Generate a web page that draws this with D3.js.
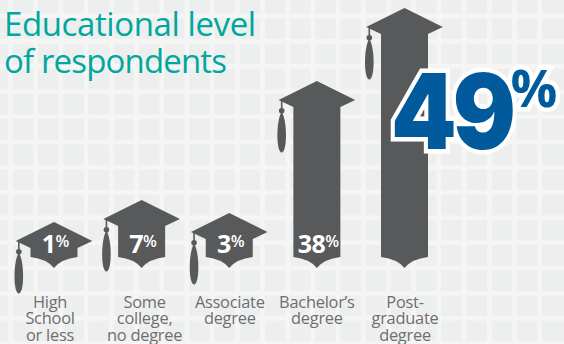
<!DOCTYPE html>
<html>
<head>
<meta charset="utf-8">
<script src="https://cdn.jsdelivr.net/npm/d3@7"></script>
<style>
  html, body { margin: 0; padding: 0; background: #f5f5f5; }
  svg { display: block; }
  text { font-family: "Open Sans", sans-serif; }
</style>
</head>
<body>
<script>
const categories = ["High School or less", "Some college, no degree", "Associate degree", "Bachelor’s degree", "Post-graduate degree"];
const categoryLines = [["High", "School", "or less"], ["Some", "college,", "no degree"], ["Associate", "degree"], ["Bachelor’s", "degree"], ["Post-", "graduate", "degree"]];
const values = [1, 7, 3, 38, 49];
const titleLines = ["Educational level", "of respondents"];

const width = 564, height = 344;
const capColor = "#58595b", labelColor = "#6d6e71", titleColor = "#00a79d", accent = "#005a9c";

const svg = d3.select("body").append("svg").attr("width", width).attr("height", height);

// Tiled backdrop: pale squares separated by lighter bands
svg.append("rect").attr("width", width).attr("height", height).attr("fill", "#edefee");
const pitch = 25.2, band = 4.6;
const grid = svg.append("g").attr("fill", "#f5f5f5");
grid.selectAll("rect.v").data(d3.range(10.5, width, pitch)).join("rect")
  .attr("class", "v").attr("x", d => d - band / 2).attr("y", 0).attr("width", band).attr("height", height);
grid.selectAll("rect.h").data(d3.range(16, height + pitch, pitch)).join("rect")
  .attr("class", "h").attr("x", 0).attr("y", d => d - band / 2).attr("width", width).attr("height", band);

// Pictogram scales: caps sit on evenly spaced centres, heights are not proportional below 38%
const x = d3.scalePoint().domain(categories).range([54, 404.5]);
const baseY = 268;
const y = d3.scaleLinear().domain([1, 3, 7, 38, 49]).range([222, 213, 200, 81, 8]);

const brimHalf = 38.3, brimDrop = 19, bodyHalf = 23.5, shoulder = 26;

function capPath(value) {
  const top = y(value);
  const p = d3.path();
  p.moveTo(0, top);
  p.lineTo(brimHalf, top + brimDrop);
  p.lineTo(bodyHalf, top + shoulder);
  p.lineTo(bodyHalf, baseY - 11);
  p.quadraticCurveTo(7, baseY - 9, 0, baseY);
  p.quadraticCurveTo(-7, baseY - 9, -bodyHalf, baseY - 11);
  p.lineTo(-bodyHalf, top + shoulder);
  p.lineTo(-brimHalf, top + brimDrop);
  p.closePath();
  return p.toString();
}

function tasselPath(value) {
  const top = y(value), tx = -35.2;
  const p = d3.path();
  p.moveTo(tx, top + 31);
  p.bezierCurveTo(tx + 2.5, top + 34, tx + 4.3, top + 44, tx + 4.3, top + 54);
  p.bezierCurveTo(tx + 4.3, top + 65, tx + 2.5, top + 71.5, tx, top + 71.5);
  p.bezierCurveTo(tx - 2.5, top + 71.5, tx - 4.3, top + 65, tx - 4.3, top + 54);
  p.bezierCurveTo(tx - 4.3, top + 44, tx - 2.5, top + 34, tx, top + 31);
  p.closePath();
  return p.toString();
}

const caps = svg.append("g").selectAll("g").data(values).join("g")
  .attr("transform", (d, i) => `translate(${x(categories[i])},0)`)
  .attr("fill", capColor);

caps.append("path").attr("d", capPath);
caps.append("path").attr("d", tasselPath);
caps.append("circle").attr("cx", -35.2).attr("cy", d => y(d) + 29.7).attr("r", 2.8);
caps.append("rect").attr("x", -36).attr("width", 1.6).attr("y", d => y(d) + 19).attr("height", 10);

// Values printed on the caps; the largest is called out separately
const inside = caps.filter((d, i) => i < values.length - 1).append("text")
  .attr("x", 1.5).attr("y", 252.5).attr("text-anchor", "middle").attr("fill", "#fff");
inside.append("tspan").attr("font-size", 25).attr("font-weight", 700).attr("letter-spacing", -0.5).text(d => d);
inside.append("tspan").attr("font-size", 16).attr("font-weight", 600).attr("dy", -6).text("%");

const category = categories[values.length - 1];
const callout = svg.append("g")
  .attr("transform", `translate(${x(category)},0)`)
  .attr("fill", accent).attr("stroke", "#fff").attr("stroke-width", 9)
  .attr("stroke-linejoin", "miter").attr("paint-order", "stroke");
callout.append("text")
  .attr("transform", "translate(-13.5,149) scale(0.9,1)")
  .style("font-family", "Inter, sans-serif")
  .attr("font-size", 104).attr("font-weight", 900).attr("letter-spacing", -4.5)
  .text(values[values.length - 1]);
callout.append("text")
  .attr("x", 106).attr("y", 107)
  .attr("font-size", 52).attr("font-weight", 700).text("%");

// Category captions
const captions = svg.append("g").selectAll("text").data(categoryLines).join("text")
  .attr("text-anchor", "middle").attr("fill", labelColor).attr("font-size", 16.4).attr("letter-spacing", -0.25);
captions.selectAll("tspan").data((d, i) => d.map(line => ({ line, i }))).join("tspan")
  .attr("x", d => x(categories[d.i]) + [-4, 3, 0.5, 0, 0.5][d.i])
  .attr("y", (d, k) => 307.5 + k * 16.6)
  .text(d => d.line);

// Title
svg.append("g").selectAll("text").data(titleLines).join("text")
  .attr("x", 4).attr("y", (d, i) => 36 + i * 36.6)
  .attr("fill", titleColor).attr("font-size", 33).attr("letter-spacing", (d, i) => [-0.4, -0.85][i]).text(d => d);
</script>
</body>
</html>
